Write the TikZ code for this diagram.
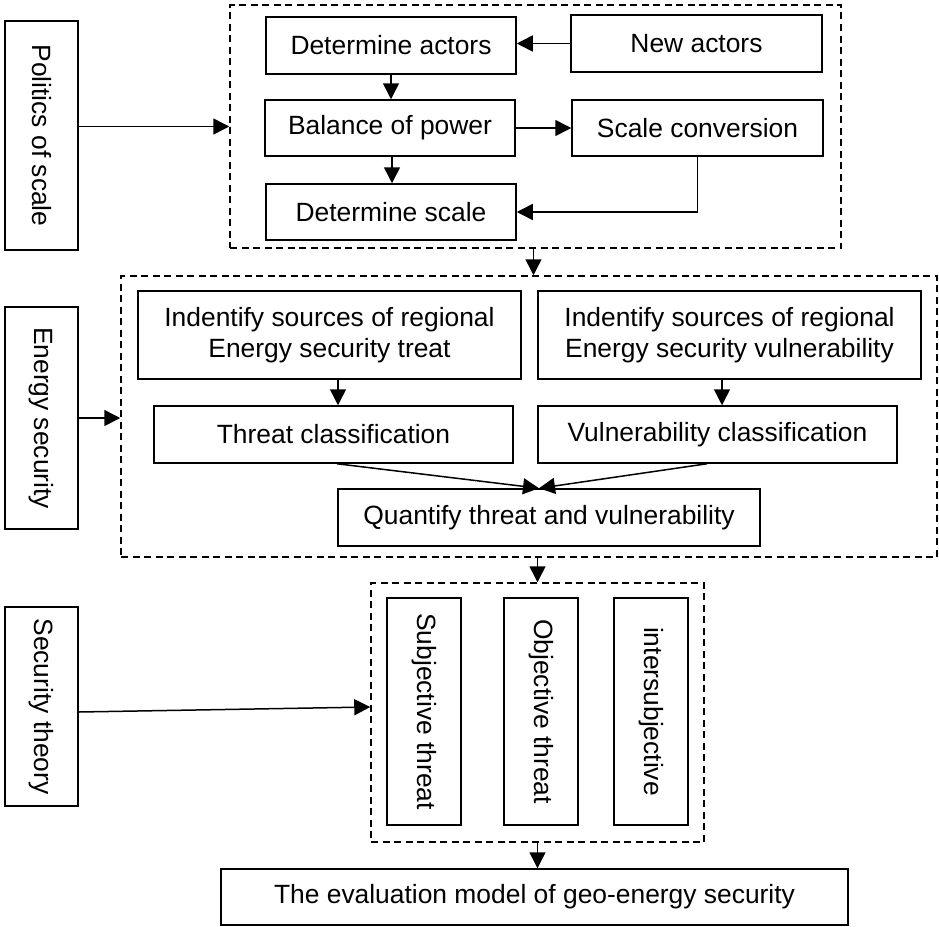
\documentclass[tikz,border=0pt]{standalone}
\usepackage{fontspec}
\setmainfont{Liberation Sans}
\usetikzlibrary{arrows.meta}
\begin{document}
\begin{tikzpicture}[x=1pt,y=-1pt,
  box/.style={draw, line width=1.5pt, inner sep=0pt, align=center, font=\fontsize{26.4}{31}\selectfont},
  dbox/.style={draw, line width=1.5pt, dash pattern=on 7pt off 4.5pt, inner sep=0pt},
  arr/.style={line width=1.5pt, -{Triangle[length=16pt,width=16pt]}}]
\useasboundingbox (0,0) rectangle (939,926);
% dashed groups
\node[dbox, minimum width=611pt, minimum height=243pt] (d1) at (535.5,126.5) {};
\node[dbox, minimum width=816pt, minimum height=281pt] (d2) at (529,416.5) {};
\node[dbox, minimum width=333pt, minimum height=259pt] (d3) at (537.5,712.5) {};
% left column
\node[box, minimum width=73pt, minimum height=229pt] (pol) at (41.5,135.5) {\rotatebox{-90}{Politics of scale}};
\node[box, minimum width=73pt, minimum height=222pt] (ens) at (41.5,418) {\rotatebox{-90}{Energy security}};
\node[box, minimum width=73pt, minimum height=199pt] (sec) at (41.5,706.5) {\rotatebox{-90}{Security theory}};
% group 1
\node[box, minimum width=250pt, minimum height=57pt] (act) at (391,45.5) {Determine actors};
\node[box, minimum width=251pt, minimum height=57pt] (new) at (696.5,43.5) {New actors};
\node[box, minimum width=250pt, minimum height=56pt] (bal) at (390,128) {Balance of power};
\node[box, minimum width=251pt, minimum height=56pt] (conv) at (697.5,128) {Scale conversion};
\node[box, minimum width=250pt, minimum height=56pt] (dsc) at (391,212) {Determine scale};
% group 2
\node[box, minimum width=383pt, minimum height=88pt] (idt) at (329.5,335) {Indentify sources of regional\\Energy security treat};
\node[box, minimum width=383pt, minimum height=88pt] (idv) at (729.5,335) {Indentify sources of regional\\Energy security vulnerability};
\node[box, minimum width=359pt, minimum height=57pt] (thc) at (333.5,434.5) {Threat classification};
\node[box, minimum width=359pt, minimum height=57pt] (vuc) at (717.5,434.5) {Vulnerability classification};
\node[box, minimum width=422pt, minimum height=57pt] (qua) at (549,517.5) {Quantify threat and vulnerability};
% group 3
\node[box, minimum width=74pt, minimum height=227pt] (sub) at (424,711.5) {\rotatebox{-90}{Subjective threat}};
\node[box, minimum width=74pt, minimum height=227pt] (obj) at (541,711.5) {\rotatebox{-90}{Objective threat}};
\node[box, minimum width=74pt, minimum height=227pt] (int) at (651,711.5) {\rotatebox{-90}{intersubjective}};
% final
\node[box, minimum width=627pt, minimum height=56pt] (fin) at (534.5,897) {The evaluation model of geo-energy security};
% connectors
\draw[arr] (pol.east |- d1.west) -- (d1.west);
\draw[arr] (act.south) -- (act.south |- bal.north);
\draw[arr] ([xshift=2pt]bal.south) -- ([xshift=2pt]bal.south |- dsc.north);
\draw[arr] (new.west) -- (new.west -| act.east);
\draw[arr] (bal.east) -- (conv.west);
\draw[arr] (conv.south) |- (dsc.east);
\draw[arr] ([xshift=-2pt]d1.south) -- ([xshift=-2pt]d1.south |- d2.north);
\draw[arr] (ens.east) -- (ens.east -| d2.west);
\draw[arr] ([xshift=8.5pt]idt.south) -- ([xshift=4.5pt]thc.north);
\draw[arr] ([xshift=-7.5pt]idv.south) -- ([xshift=4.5pt]vuc.north);
\draw[arr] ([xshift=3.5pt]thc.south) -- ([xshift=-10pt]qua.north);
\draw[arr] ([xshift=-10.5pt]vuc.south) -- ([xshift=-10pt]qua.north);
\draw[arr] (d3.north |- d2.south) -- (d3.north);
\draw[arr] ([yshift=-5.5pt]sec.east) -- ([yshift=5.5pt]d3.west);
\draw[arr] (d3.south) -- (d3.south |- fin.north);
\end{tikzpicture}
\end{document}
